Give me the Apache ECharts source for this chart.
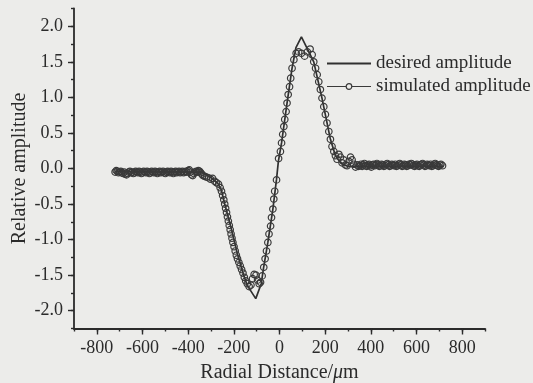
<!DOCTYPE html>
<html><head><meta charset="utf-8">
<script src="https://cdn.jsdelivr.net/npm/echarts@6/dist/echarts.min.js"></script>
<style>html,body{margin:0;padding:0;background:#ececea;}#c{width:533px;height:383px;}</style>
</head><body><div id="c"></div>
<script>
const xMajorTicks = [-800, -600, -400, -200, 0, 200, 400, 600, 800];
const yMajorTicks = [-2.0, -1.5, -1.0, -0.5, 0.0, 0.5, 1.0, 1.5, 2.0];
const seriesNames = ['desired amplitude', 'simulated amplitude'];
const xAxisTitle = 'Radial Distance/{i|\u03bc}m';
const yAxisTitle = 'Relative amplitude';

const desired = [
  [-720,-0.04],[-340,-0.05],[-300,-0.13],[-270,-0.21],[-255,-0.30],[-240,-0.50],
  [-214,-0.81],[-186,-1.18],[-160,-1.47],[-142,-1.64],[-104,-1.83],[-80,-1.62],
  [-70,-1.40],[-51,-1.04],[-29,-0.57],[-13,-0.15],[-5,0.10],[9,0.36],[33,0.92],
  [55,1.41],[72,1.70],[96,1.85],[121,1.69],[150,1.50],[186,0.99],[223,0.41],
  [245,0.18],[270,0.07],[300,0.03],[720,0.03]
];

const simulated = [
  [-720,-0.05],[-715,-0.03],[-710,-0.04],[-705,-0.06],[-700,-0.05],[-695,-0.04],
  [-690,-0.06],[-685,-0.07],[-680,-0.05],[-675,-0.08],[-670,-0.09],[-665,-0.07],
  [-660,-0.05],[-655,-0.04],[-650,-0.06],[-645,-0.05],[-640,-0.07],[-635,-0.06],
  [-630,-0.04],[-625,-0.05],[-620,-0.06],[-615,-0.04],[-610,-0.05],[-605,-0.07],
  [-600,-0.06],[-595,-0.04],[-590,-0.05],[-585,-0.06],[-580,-0.04],[-575,-0.05],
  [-570,-0.07],[-565,-0.06],[-560,-0.04],[-555,-0.05],[-550,-0.06],[-545,-0.04],
  [-540,-0.05],[-535,-0.07],[-530,-0.05],[-525,-0.04],[-520,-0.06],[-515,-0.05],
  [-510,-0.04],[-505,-0.06],[-500,-0.07],[-495,-0.05],[-490,-0.04],[-485,-0.05],
  [-480,-0.06],[-475,-0.04],[-470,-0.05],[-465,-0.07],[-460,-0.05],[-455,-0.04],
  [-450,-0.06],[-445,-0.05],[-440,-0.04],[-435,-0.06],[-430,-0.05],[-425,-0.04],
  [-420,-0.06],[-415,-0.05],[-410,-0.04],[-405,-0.05],[-400,-0.03],[-395,-0.02],
  [-390,-0.05],[-385,-0.09],[-380,-0.10],[-375,-0.07],[-370,-0.05],[-365,-0.04],
  [-360,-0.05],[-355,-0.03],[-350,-0.04],[-345,-0.06],[-340,-0.08],[-335,-0.10],
  [-328,-0.11],[-320,-0.12],[-311,-0.13],[-302,-0.15],[-293,-0.14],
  [-284,-0.18],[-276,-0.20],[-267,-0.22],[-260,-0.27],[-254,-0.32],[-249,-0.38],
  [-244,-0.44],[-240,-0.50],[-236,-0.56],[-232,-0.62],[-228,-0.68],[-224,-0.74],
  [-220,-0.80],[-216,-0.86],[-212,-0.92],[-208,-0.98],[-204,-1.04],[-199,-1.10],
  [-194,-1.16],[-189,-1.22],[-184,-1.27],[-178,-1.32],[-172,-1.37],[-166,-1.42],
  [-160,-1.47],[-154,-1.53],[-148,-1.58],[-141,-1.62],[-133,-1.66],[-125,-1.64],
  [-118,-1.55],[-111,-1.49],[-103,-1.50],[-96,-1.57],[-89,-1.62],[-83,-1.60],
  [-76,-1.51],[-69,-1.39],[-63,-1.27],[-57,-1.16],[-51,-1.04],[-46,-0.92],
  [-39,-0.81],[-35,-0.69],[-29,-0.57],[-25,-0.43],[-21,-0.32],[-13,-0.16],
  [-4,0.14],[4,0.24],[9,0.36],[14,0.48],[19,0.59],[23,0.69],[29,0.80],[33,0.92],
  [38,1.04],[44,1.15],[49,1.27],[55,1.41],[63,1.53],[73,1.62],[84,1.64],[96,1.62],
  [110,1.58],[122,1.64],[134,1.68],[143,1.60],[150,1.50],[158,1.41],[165,1.32],
  [172,1.22],[179,1.11],[186,0.99],[194,0.87],[201,0.76],[208,0.64],[216,0.52],
  [223,0.41],[230,0.31],[238,0.24],[245,0.18],[252,0.13],[260,0.20],[267,0.16],
  [274,0.08],[281,0.12],[289,0.05],[296,0.04],[304,0.10],[311,0.16],[318,0.12],
  [325,0.06],[333,0.02],[340,0.05],[346,0.03],
  [352,0.04],[357,0.06],[362,0.03],[367,0.05],[372,0.07],[377,0.04],[382,0.03],
  [387,0.05],[392,0.06],[397,0.04],[402,0.02],[407,0.05],[412,0.06],[417,0.04],
  [422,0.05],[427,0.07],[432,0.05],[437,0.03],[442,0.04],[447,0.06],[452,0.05],
  [457,0.03],[462,0.04],[467,0.06],[472,0.07],[477,0.05],[482,0.03],[487,0.04],
  [492,0.06],[497,0.05],[502,0.04],[507,0.06],[512,0.03],[517,0.04],[522,0.06],
  [527,0.07],[532,0.05],[537,0.03],[542,0.04],[547,0.06],[552,0.05],[557,0.03],
  [562,0.04],[567,0.06],[572,0.05],[577,0.07],[582,0.06],[587,0.04],[592,0.03],
  [597,0.05],[602,0.06],[607,0.04],[612,0.03],[617,0.05],[622,0.06],[627,0.07],
  [632,0.05],[637,0.03],[642,0.04],[647,0.06],[652,0.05],[657,0.04],[662,0.06],
  [667,0.03],[672,0.04],[677,0.06],[682,0.07],[687,0.05],[692,0.04],[697,0.03],
  [702,0.05],[707,0.06],[714,0.04]
];

const FONT = '"Liberation Serif","Times New Roman",serif';
const INK = '#2b2b2b';
const BG = '#ececea';

const chart = echarts.init(document.getElementById('c'), null, {renderer: 'canvas'});
chart.setOption({
  backgroundColor: BG,
  animation: false,
  grid: {left: 74, right: 48, top: 8.5, bottom: 54.5, containLabel: false, outerBoundsMode: 'none'},
  xAxis: [
    {
      type: 'value', min: -900, max: 900, interval: 100, position: 'bottom',
      axisLine: {show: true, onZero: false, lineStyle: {color: INK, width: 1.8}},
      axisTick: {show: true, length: 3, lineStyle: {color: INK, width: 1.4}},
      axisLabel: {show: false}, splitLine: {show: false}
    },
    {
      type: 'value', min: -900, max: 900, position: 'bottom', offset: 0,
      axisLine: {show: false, onZero: false},
      axisTick: {show: true, length: 6, customValues: xMajorTicks, lineStyle: {color: INK, width: 1.4}},
      axisLabel: {show: true, customValues: xMajorTicks, fontFamily: FONT, fontSize: 18, color: INK, margin: 11},
      splitLine: {show: false},
      name: xAxisTitle, nameLocation: 'middle', nameGap: 34, nameMoveOverlap: false,
      nameTextStyle: {fontFamily: FONT, fontSize: 20, color: INK,
        rich: {i: {fontFamily: FONT, fontSize: 20, fontStyle: 'italic', color: INK}}}
    }
  ],
  yAxis: [
    {
      type: 'value', min: -2.25, max: 2.25, interval: 0.25, position: 'left',
      axisLine: {show: true, onZero: false, lineStyle: {color: INK, width: 1.8}},
      axisTick: {show: true, length: 3, lineStyle: {color: INK, width: 1.4}},
      axisLabel: {show: false}, splitLine: {show: false}
    },
    {
      type: 'value', min: -2.25, max: 2.25, position: 'left', offset: 0,
      axisLine: {show: false, onZero: false},
      axisTick: {show: true, length: 6, customValues: yMajorTicks, lineStyle: {color: INK, width: 1.4}},
      axisLabel: {show: true, customValues: yMajorTicks, fontFamily: FONT, fontSize: 18, color: INK, margin: 11,
        formatter: v => v.toFixed(1)},
      splitLine: {show: false},
      name: yAxisTitle, nameLocation: 'middle', nameGap: 44, nameRotate: 90, nameMoveOverlap: false,
      nameTextStyle: {fontFamily: FONT, fontSize: 20, color: INK}
    }
  ],
  legend: {
    orient: 'vertical', left: 321, top: 49, itemWidth: 44, itemHeight: 7, itemGap: 4,
    data: [
      {name: seriesNames[0], itemStyle: {opacity: 0}},
      {name: seriesNames[1], itemStyle: {color: BG, borderColor: '#3a3a3a', borderWidth: 1.2},
        lineStyle: {color: '#3a3a3a', width: 1.2, opacity: 1}}
    ],
    textStyle: {fontFamily: FONT, fontSize: 19, color: INK}
  },
  series: [
    {
      name: seriesNames[0], type: 'line', xAxisIndex: 0, yAxisIndex: 0,
      data: desired, symbol: 'none', smooth: false,
      lineStyle: {color: '#303030', width: 1.7},
      itemStyle: {color: '#303030'}, z: 2
    },
    {
      name: seriesNames[1], type: 'line', xAxisIndex: 0, yAxisIndex: 0,
      data: simulated, symbol: 'circle', symbolSize: 6.5, showAllSymbol: true,
      lineStyle: {color: '#3a3a3a', width: 1, opacity: 0},
      itemStyle: {color: 'rgba(0,0,0,0)', borderColor: '#3a3a3a', borderWidth: 1.2}, z: 3
    }
  ]
});
</script>
</body></html>
